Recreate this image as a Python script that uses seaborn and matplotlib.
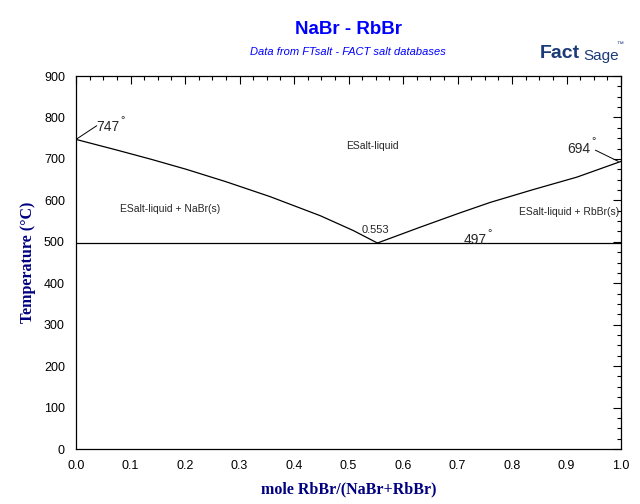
import matplotlib
matplotlib.use("Agg")
import matplotlib.pyplot as plt
import seaborn as sns
import pandas as pd
from matplotlib.ticker import MultipleLocator, FormatStrFormatter

# liquidus branches
left_x = [0.0, 0.073, 0.138, 0.202, 0.275, 0.356, 0.448, 0.509, 0.553]
left_t = [747, 722, 699, 675, 645, 609, 563, 527, 497]
right_x = [0.553, 0.631, 0.705, 0.760, 0.839, 0.919, 1.0]
right_t = [497, 535, 570, 595, 626, 656, 694]
eutectic_t = 497
eutectic_x = 0.553

sns.set_theme(style="white")
plt.rcParams["font.family"] = ["Liberation Sans", "DejaVu Sans"]

fig = plt.figure(figsize=(6.4, 5.04), dpi=100)
ax = fig.add_axes([0.11875, 0.1091, 0.8516, 0.7401])

left = pd.DataFrame({"x": left_x, "T": left_t})
right = pd.DataFrame({"x": right_x, "T": right_t})
sns.lineplot(data=left, x="x", y="T", sort=False, color="black", lw=0.9, ax=ax)
sns.lineplot(data=right, x="x", y="T", sort=False, color="black", lw=0.9, ax=ax)
ax.plot([0, 1], [eutectic_t, eutectic_t], color="black", lw=0.9)

# labels of special points
ax.plot([0.0, 0.038], [left_t[0], 780], color="black", lw=0.7)
ax.text(0.037, 776, "747", fontsize=10, va="center", ha="left")
ax.text(0.081, 793, "°", fontsize=8, va="center", ha="left")
ax.plot([0.953, 0.995], [721, right_t[-1]], color="black", lw=0.7)
ax.text(0.902, 725, "694", fontsize=10, va="center", ha="left")
ax.text(0.945, 742, "°", fontsize=8, va="center", ha="left")
ax.text(eutectic_x - 0.003, 528, "%.3f" % eutectic_x, fontsize=8, ha="center", va="center")
ax.text(0.711, 504, "497", fontsize=10, va="center", ha="left")
ax.text(0.754, 521, "°", fontsize=8, va="center", ha="left")

ax.text(0.543, 731, "ESalt-liquid", fontsize=7.5, ha="center", va="center")
ax.text(0.172, 579, "ESalt-liquid + NaBr(s)", fontsize=7.5, ha="center", va="center")
ax.text(0.996, 572, "ESalt-liquid + RbBr(s)", fontsize=7.5, ha="right", va="center")

ax.set_xlim(0, 1)
ax.set_ylim(0, 900)
ax.xaxis.set_major_locator(MultipleLocator(0.1))
ax.xaxis.set_minor_locator(MultipleLocator(0.025))
ax.yaxis.set_major_locator(MultipleLocator(100))
ax.yaxis.set_minor_locator(MultipleLocator(25))
ax.xaxis.set_major_formatter(FormatStrFormatter("%.1f"))
ax.tick_params(which="both", direction="in", top=True, right=True, colors="black",
               labelsize=9, width=0.8)
ax.tick_params(which="major", length=6, pad=8)
ax.tick_params(which="minor", length=3)
for s in ax.spines.values():
    s.set_color("black")
    s.set_linewidth(0.9)

lab_font = {"family": ["Liberation Serif", "DejaVu Serif"], "weight": "bold",
            "size": 11.5, "color": "#000080"}
ax.set_xlabel("mole RbBr/(NaBr+RbBr)", fontdict=lab_font, labelpad=7)
ax.set_ylabel("Temperature (°C)", fontdict=lab_font, labelpad=6)

fig.text(0.544, 0.942, "NaBr - RbBr", fontsize=13.5, weight="bold", color="#0000FF",
         ha="center", va="center")
fig.text(0.544, 0.896, "Data from FTsalt - FACT salt databases", fontsize=8,
         style="italic", color="#0000FF", ha="center", va="center")
fig.text(0.843, 0.893, "Fact", fontsize=14, weight="bold", color="#1A3A78",
         ha="left", va="center")
fig.text(0.912, 0.889, "Sage", fontsize=11, color="#1A3A78", ha="left", va="center",
         family=["Liberation Sans Narrow", "Liberation Sans"])
fig.text(0.963, 0.912, "™", fontsize=5, color="#1A3A78", ha="left", va="center")

fig.savefig("out.png", dpi=100, facecolor="white")
